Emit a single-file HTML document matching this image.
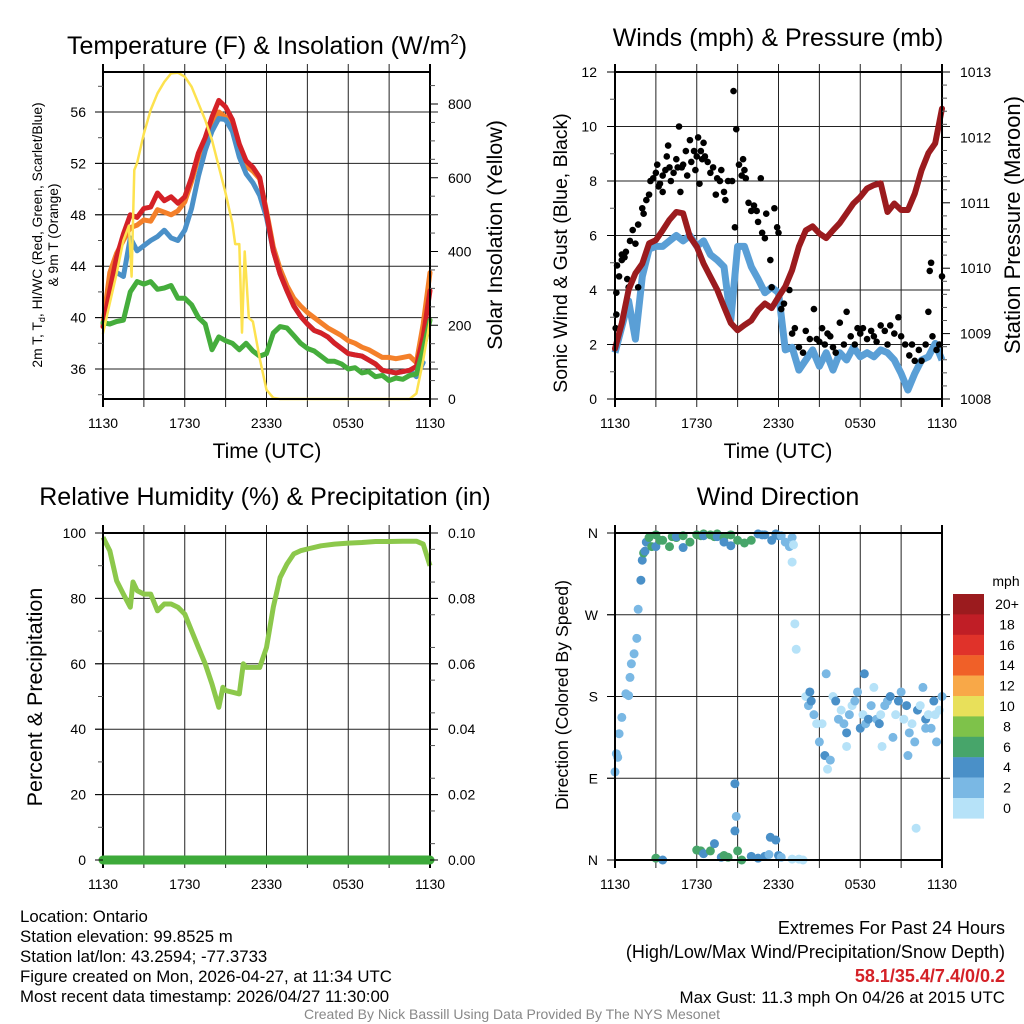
<!DOCTYPE html>
<html><head><meta charset="utf-8"><title>Mesonet Station Charts</title>
<style>
html,body{margin:0;padding:0;background:#fff;}
svg{display:block;font-family:"Liberation Sans",Arial,sans-serif;}
</style></head>
<body>
<svg id="root" width="1024" height="1024" viewBox="0 0 1024 1024" xmlns="http://www.w3.org/2000/svg">
<rect width="1024" height="1024" fill="#fff"/>
<g id="p1"></g>
<g id="p2"></g>
<g id="p3"></g>
<g id="p4"></g>

<text x="267" y="54" font-size="25" text-anchor="middle">Temperature (F) &amp; Insolation (W/m<tspan dy="-10" font-size="15">2</tspan><tspan dy="10">)</tspan></text>
<text x="778" y="46" font-size="25" text-anchor="middle">Winds (mph) &amp; Pressure (mb)</text>
<text x="265" y="505" font-size="25" text-anchor="middle">Relative Humidity (%) &amp; Precipitation (in)</text>
<text x="778" y="505" font-size="25" text-anchor="middle">Wind Direction</text>

<text transform="translate(42,235) rotate(-90)" font-size="13.8" text-anchor="middle">2m T, T<tspan font-size="9" dy="3">d</tspan><tspan dy="-3">, HI/WC (Red, Green, Scarlet/Blue)</tspan></text>
<text transform="translate(58,235) rotate(-90)" font-size="13.8" text-anchor="middle">&amp; 9m T (Orange)</text>
<text transform="translate(502,235) rotate(-90)" font-size="21.5" text-anchor="middle">Solar Insolation (Yellow)</text>
<text transform="translate(567,253) rotate(-90)" font-size="19.5" text-anchor="middle">Sonic Wind &amp; Gust (Blue, Black)</text>
<text transform="translate(1020,225) rotate(-90)" font-size="22" text-anchor="middle">Station Pressure (Maroon)</text>
<text transform="translate(42,697) rotate(-90)" font-size="21.5" text-anchor="middle">Percent &amp; Precipitation</text>
<text transform="translate(568,695) rotate(-90)" font-size="17.7" text-anchor="middle">Direction (Colored By Speed)</text>

<text x="267" y="458" font-size="21" text-anchor="middle">Time (UTC)</text>
<text x="778" y="458" font-size="21" text-anchor="middle">Time (UTC)</text>

<g id="legend"></g>

<g font-size="16.8">
<text x="20" y="922">Location: Ontario</text>
<text x="20" y="942">Station elevation: 99.8525 m</text>
<text x="20" y="962">Station lat/lon: 43.2594; -77.3733</text>
<text x="20" y="982">Figure created on Mon, 2026-04-27, at 11:34 UTC</text>
<text x="20" y="1002">Most recent data timestamp: 2026/04/27 11:30:00</text>
</g>
<g font-size="18" text-anchor="end">
<text x="1005" y="934">Extremes For Past 24 Hours</text>
<text x="1005" y="958">(High/Low/Max Wind/Precipitation/Snow Depth)</text>
<text x="1005" y="982" fill="#d42127" font-weight="bold">58.1/35.4/7.4/0/0.2</text>
<text x="1005" y="1003" font-size="16.9">Max Gust: 11.3 mph On 04/26 at 2015 UTC</text>
</g>
<text x="512" y="1019" font-size="14" fill="#888" text-anchor="middle">Created By Nick Bassill Using Data Provided By The NYS Mesonet</text>
</svg>
<script>
// ---- data ----
const hours = [0,0.5,1,1.5,2,2.5,3,3.5,4,4.5,5,5.5,6,6.5,7,7.5,8,8.5,9,9.5,10,10.5,11,11.5,12,12.5,13,13.5,14,14.5,15,15.5,16,16.5,17,17.5,18,18.5,19,19.5,20,20.5,21,21.5,22,22.5,23,23.5,24];
const tempRed = [39.3,42.1,44.7,46.5,48,47.8,48.5,48.6,49.7,49.1,49.4,48.9,49.4,50.9,52.8,54,55.6,56.9,56.4,55.4,53.5,52.2,51.7,50.9,48.1,45.2,43.4,42.1,40.9,40.1,39.5,39,38.8,38.5,38,37.6,37.2,37.1,37,36.7,36.4,35.9,35.8,35.7,35.8,35.9,36.2,38.5,42.1];
const tempOrange = [39.5,43.5,45,46,47,47.2,47.6,47.5,48.4,48.2,48,48.3,49,50.6,52.5,53.8,55,56,55.6,55,53.2,51.8,51.4,50.8,48.3,45.5,43.8,42.5,41.5,40.9,40.4,40,39.6,39.2,38.9,38.6,38.2,38,37.7,37.5,37.2,36.9,36.9,36.8,36.9,37,36.5,39.5,43.5];
const tempBlue = [null,null,43.5,43.2,46.2,45.2,45.6,46,46.3,46.8,46.2,46,46.8,48.5,51,53,54.5,55.5,55.4,54.5,52.5,51.2,50.5,49.5,47.8,45.2,43.4,42.1,40.9,40.1,39.5,39,38.8,38.5,38,37.6,37.2,37.1,37,36.7,36.4,35.9,35.8,35.7,35.8,35.9,35.4,36.5,null];
const tempGreen = [39.6,39.5,39.7,39.8,42,42.8,42.6,42.8,42.2,42.3,42.5,41.5,41.5,41,40,39.5,37.5,38.5,38.2,38,37.5,38,37.4,37,37.2,38.8,39.3,39.2,38.6,38,37.6,37.4,37,36.6,36.6,36.4,36,36.1,35.7,35.8,35.4,35.5,35.1,35.3,35.2,35.5,35.6,37.5,39.8];
const solarHours = [0,0.5,1,1.5,1.9,2.1,2.3,2.5,3,3.5,4,4.5,5,5.5,6,6.5,7,7.5,8,8.5,9,9.5,9.7,10,10.2,10.4,10.7,11,11.5,12,12.5,13,22.5,23,23.5,24];
const solarVals = [178,260,340,430,470,332,621,640,720,784,829,860,883,885,874,847,802,757,702,630,558,476,420,420,180,400,220,210,110,25,3,0,0,15,105,214];
const pressure = [1008.77,1009.16,1009.67,1009.92,1010.07,1010.38,1010.43,1010.58,1010.74,1010.86,1010.84,1010.48,1010.33,1010.07,1009.87,1009.67,1009.41,1009.16,1009.05,1009.13,1009.2,1009.36,1009.46,1009.39,1009.56,1009.72,1009.97,1010.33,1010.58,1010.64,1010.53,1010.46,1010.58,1010.69,1010.84,1010.99,1011.09,1011.22,1011.27,1011.3,1010.86,1010.99,1010.89,1010.89,1011.14,1011.5,1011.76,1011.91,1012.44];
const windAvg = [1.7,2.65,3.6,2.2,4.5,5.5,5.6,5.6,5.8,6,5.8,6,5.6,5.8,5.3,5.1,4.85,2.9,5.6,5.6,4.85,4.4,3.9,4.1,3.9,1.8,1.9,1.06,1.43,1.8,1.2,1.7,1.06,1.7,1.43,1.9,1.55,1.7,1.55,1.8,1.7,1.43,0.94,0.33,0.94,1.43,1.55,2.04,1.43];
const gustHours = [0.05,0.1,0.1,0.15,0.3,0.5,0.5,0.7,0.8,0.9,1.0,1.1,1.3,1.5,1.7,1.7,2.0,2.1,2.3,2.5,2.6,2.8,3.0,3.1,3.2,3.3,3.5,3.5,3.7,3.8,3.9,4.0,4.1,4.3,4.5,4.6,4.7,4.8,4.9,5.0,5.2,5.3,5.5,5.6,5.8,5.9,6.0,6.1,6.2,6.3,6.4,6.5,6.6,6.8,7.0,7.2,7.4,7.5,7.7,7.8,8.0,8.1,8.3,8.6,8.7,8.8,8.9,9.1,9.3,9.4,9.5,9.6,9.8,10.0,10.2,10.4,10.5,10.7,10.8,11.0,11.1,11.4,11.5,11.7,11.9,12.0,12.2,12.4,12.8,13.0,13.2,13.5,13.8,14.0,14.3,14.6,14.8,15.0,15.2,15.4,15.6,15.8,16.0,16.2,16.5,16.8,17.0,17.3,17.6,17.8,18.0,18.2,18.5,18.8,19.0,19.2,19.5,19.8,20.0,20.2,20.5,20.8,21.0,21.3,21.6,21.8,22.0,22.3,22.5,22.8,23.0,23.1,23.2,23.3,23.6,23.8,24.0];
const gustVals = [2.6,3.1,3.9,4.9,4.5,5.1,5.3,5.2,5.4,4.4,4.1,5.8,6.2,5.7,4.1,6.4,7.0,6.8,7.3,7.5,8.0,8.1,8.3,8.6,7.8,7.9,8.2,7.6,8.4,8.9,9.3,8.5,8.0,8.3,8.8,8.5,10.0,7.6,8.5,8.6,9.1,8.2,9.5,8.7,9.1,8.4,8.9,9.6,7.9,9.1,8.8,9.4,8.9,8.7,8.3,8.5,7.5,8.1,8.0,8.4,7.6,7.3,8.0,8.0,11.3,6.3,9.9,8.6,8.2,8.8,8.4,8.1,7.2,6.9,7.1,6.9,6.5,8.1,6.1,5.9,6.8,5.1,4.1,7.0,6.3,6.1,3.3,3.5,4.0,2.4,2.6,1.9,1.7,2.5,2.2,3.3,2.2,2.1,2.6,2.0,2.4,2.3,1.9,1.7,2.8,2.0,3.2,2.3,2.0,2.6,2.4,2.6,2.2,2.5,2.3,2.1,2.7,2.5,2.0,2.7,2.4,3.0,2.3,2.0,1.6,2.0,1.4,1.8,1.4,2.0,3.2,4.7,5.0,2.3,1.8,2.0,4.5];
const rhHours = [0,0.5,1,1.5,2,2.2,2.5,3,3.5,4,4.5,5,5.5,6,6.5,7,7.5,8,8.5,8.8,9,9.5,10,10.3,10.5,11,11.5,12,12.5,13,13.5,14,14.5,15,16,17,18,19,20,21,22,23,23.5,24];
const rhVals = [98.7,94.6,85.4,81.3,77.3,85,82.4,81.3,81.3,76.2,78.3,78.3,77.3,75.2,70.1,65,60,53.8,46.7,52.8,51.8,51.3,50.8,60,58.9,58.9,58.9,65,77.3,86.4,90.5,93.6,94.6,95.1,96.1,96.6,96.9,97.1,97.4,97.4,97.5,97.5,96.6,90];
const precipHours = [0,24];
const precipVals = [0,0];
const dirHours = [0,0.1,0.2,0.3,0.5,0.8,1.0,1.1,1.2,1.4,1.6,1.7,1.9,2.0,2.1,2.2,2.3,2.5,2.7,3.0,3.0,3.3,3.5,4.0,4.2,4.5,4.5,5.0,5.0,5.5,6.0,6.3,6.5,6.5,7.0,7.3,7.5,7.5,8.0,8.0,8.5,8.5,9.0,9.5,10.0,10.5,10.8,11.0,11.5,11.8,12.0,12.2,12.5,12.8,13.0,13.1,13.0,13.2,13.3,
 3.0,3.5,6.0,6.3,6.5,7.0,7.3,7.8,8.0,8.3,8.8,8.9,8.8,9.3,9.0,10.0,10.5,11.0,11.3,11.4,11.8,12.0,12.2,13.0,13.5,22.1,
 13.8,14.0,14.2,14.4,14.6,14.8,15.0,15.2,15.4,15.6,15.8,16.0,16.2,16.4,16.6,16.8,17.0,17.2,17.4,17.6,17.8,18.0,18.2,18.4,18.6,18.8,19.0,19.2,19.4,19.6,19.8,20.0,20.2,20.4,20.6,20.8,21.0,21.2,21.4,21.6,21.8,22.0,22.2,22.4,22.6,22.8,23.0,23.2,23.4,23.6,23.8,24.0,14.3,15.5,17.0,18.3,19.5,21.5,22.8,23.5];
const dirVals = [97,117,113,139,157,183,181,201,216,227,244,276,308,330,338,340,350,355,345,358,345,352,352,345,356,355,356,357,344,350,358,357,359,357,358,356,359,356,355,350,358,346,352,349,352,359,358,358,352,359,357,357,350,345,355,347,328,260,232,
 2,0,11,10,7,10,18,3,5,3,84,48,32,0,10,4,2,4,6,25,22,5,3,1,1,35,0,
 180,170,175,160,150,130,150,115,100,110,180,175,155,165,150,140,160,170,175,185,145,160,150,155,170,190,155,150,125,170,175,180,135,160,175,185,155,170,140,150,130,165,170,190,155,160,145,175,130,165,180,185,205,125,205,160,115,145,160,195];
const dirSpeed = [2,2,2,2,2,2,2,2,2,2,2,2,4,4,6,4,4,6,6,6,4,6,6,6,6,6,4,6,4,6,6,6,6,4,6,6,6,4,6,4,6,4,6,6,6,4,4,4,4,4,4,2,2,2,2,0,0,0,0,
 6,4,6,6,4,6,4,4,6,6,4,2,4,6,6,4,4,4,2,4,4,4,2,0,0,0,
 0,0,2,4,2,0,2,0,4,0,2,0,4,2,0,2,4,2,0,2,2,4,0,2,4,2,0,2,4,0,2,2,4,2,0,4,2,0,4,2,0,2,4,0,2,4,0,2,4,2,0,2,4,2,0,4,0,2,2,0];
const legendLabels = ["20+","18","16","14","12","10","8","6","4","2","0"];
const legendColors = ["#9b1b1e","#c01e26","#e0322a","#f06028","#f8a848","#e8e05a","#7ec24a","#47a56a","#4a90c8","#7ab8e4","#b6e2f8"];
const timeTickLabels = ["1130","1730","2330","0530","1130"];

// ---- helpers ----
const NS = "http://www.w3.org/2000/svg";
function mk(tag, attrs, parent){
  const e = document.createElementNS(NS, tag);
  for (const k in attrs) e.setAttribute(k, attrs[k]);
  parent.appendChild(e); return e;
}
function lin(d0,d1,r0,r1){ return v => r0 + (v-d0)/(d1-d0)*(r1-r0); }
function speedColor(s){ let i = Math.min(10, Math.floor(s/2)); return legendColors[10-i]; }
function pathFrom(xs, ys, fx, fy){
  let d = "", pen = false;
  for (let i=0;i<xs.length;i++){
    if (ys[i]===null){ pen=false; continue; }
    d += (pen?"L":"M") + fx(xs[i]).toFixed(1) + "," + fy(ys[i]).toFixed(1);
    pen = true;
  }
  return d;
}

function frame(g, L, R, T, B, hLines, vFn){
  for (let h=3; h<24; h+=3){
    const x = vFn(h);
    const ln = mk("line",{x1:x,x2:x,y1:T-8,y2:B+8,stroke:"#222","stroke-width":1},g);
    
    
  }
  hLines.forEach(y=>{
    const ln = mk("line",{x1:L-8,x2:R+8,y1:y,y2:y,stroke:"#222","stroke-width":1},g);
    
    
  });
  timeTickLabels.forEach((lab,i)=>{
    const x = vFn(i*6);
    const t = mk("text",{x:x,y:B+29,"font-size":14,"text-anchor":"middle"},g);
    t.textContent = lab;
    
    
  });
}
function border(g,L,R,T,B){
  const r = mk("rect",{x:L,y:T,width:R-L,height:B-T,fill:"none",stroke:"#000","stroke-width":2},g);
  
  
  mk("line",{x1:L,x2:L,y1:T-8,y2:B+8,stroke:"#000","stroke-width":2},g);
  mk("line",{x1:R,x2:R,y1:T-8,y2:B+8,stroke:"#000","stroke-width":2},g);
}
function yTicks(g, side, ticks, fy, fmt, x, minor, L, R){
  const xe = side==="left"?L:R;
  ticks.forEach(v=>{
    const y = fy(v);
    const t = mk("text",{x:x,y:y+5,"font-size":14,"text-anchor":side==="left"?"end":"start"},g);
    t.textContent = fmt(v);
    
    
    mk("line",{x1:xe,x2:side==="left"?xe-8:xe+8,y1:y,y2:y,stroke:"#000","stroke-width":1},g);
  });
  minor.forEach(v=>{
    const y = fy(v);
    mk("line",{x1:xe,x2:side==="left"?xe-5:xe+5,y1:y,y2:y,stroke:"#555","stroke-width":1},g);
  });
}

// ---- Panel 1: temperature ----
(function(){
  const g = document.getElementById("p1");
  const L=103,R=430,T=72,B=399;
  const fx = lin(0,24,L,R);
  const fy = lin(36,56,369,112);
  const fs = lin(0,800,399,104);
  frame(g,L,R,T,B,[36,40,44,48,52,56].map(fy),fx);
  const add=(xs,ys,c,w,name,fyy)=>{
    const p = mk("path",{d:pathFrom(xs,ys,fx,fyy||fy),fill:"none",stroke:c,"stroke-width":w,"stroke-linejoin":"round","stroke-linecap":"round"},g);
    
    
  };
  add(hours,tempOrange,"#f4802a",5,"temp-9m-line");
  add(hours,tempBlue,"#4a90c8",5,"windchill-line");
  add(hours,tempRed,"#d42127",5,"temp-2m-line");
  add(hours,tempGreen,"#45ad3c",5,"dewpoint-line");
  add(solarHours,solarVals,"#fde24f",2.5,"solar-insolation-line",fs);
  border(g,L,R,T,B);
  const mn=[]; for(let v=34; v<=58; v+=2) if(v%4) mn.push(v);
  yTicks(g,"left",[36,40,44,48,52,56],fy,v=>v,86,mn,L,R);
  const mn2=[]; for(let v=50; v<=850; v+=50) if(v%200) mn2.push(v);
  yTicks(g,"right",[0,200,400,600,800],fs,v=>v,448,mn2,L,R);
})();

// ---- Panel 2: winds ----
(function(){
  const g = document.getElementById("p2");
  const L=615,R=942,T=72,B=399;
  const fx = lin(0,24,L,R);
  const fy = lin(0,12,399,72);
  const fp = lin(1008,1013,399,72);
  frame(g,L,R,T,B,[2,4,6,8,10].map(fy),fx);
  const wl = mk("path",{d:pathFrom(hours,windAvg,fx,fy),fill:"none",stroke:"#5a9fd6","stroke-width":7,"stroke-linejoin":"round"},g);
  
  
  gustHours.forEach((h,i)=>{
    const c = mk("circle",{cx:fx(h),cy:fy(gustVals[i]),r:3.3,fill:"#000"},g);
    
    
  });
  const pl = mk("path",{d:pathFrom(hours,pressure,fx,fp),fill:"none",stroke:"#9b1b1e","stroke-width":6,"stroke-linejoin":"round","stroke-linecap":"round"},g);
  
  
  border(g,L,R,T,B);
  yTicks(g,"left",[0,2,4,6,8,10,12],fy,v=>v,597,[1,3,5,7,9,11],L,R);
  const mn=[]; for(let v=1008.2; v<1013; v+=0.2){ if(Math.abs(v-Math.round(v))>0.05) mn.push(v);}
  yTicks(g,"right",[1008,1009,1010,1011,1012,1013],fp,v=>v,960,mn,L,R);
})();

// ---- Panel 3: humidity ----
(function(){
  const g = document.getElementById("p3");
  const L=103,R=430,T=533,B=860;
  const fx = lin(0,24,L,R);
  const fy = lin(0,100,860,533);
  const fpr = lin(0,0.1,860,533);
  frame(g,L,R,T,B,[20,40,60,80].map(fy),fx);
  const rl = mk("path",{d:pathFrom(rhHours,rhVals,fx,fy),fill:"none",stroke:"#8cc84b","stroke-width":5,"stroke-linejoin":"round"},g);
  
  
  border(g,L,R,T,B);
  const pr = mk("path",{d:pathFrom(precipHours,precipVals,fx,fpr),fill:"none",stroke:"#3daa3a","stroke-width":9,"stroke-linecap":"round"},g);
  
  
  yTicks(g,"left",[0,20,40,60,80,100],fy,v=>v,86,[10,30,50,70,90],L,R);
  const mn=[]; for(let k=1;k<20;k+=2) mn.push(k*0.005);
  yTicks(g,"right",[0,0.02,0.04,0.06,0.08,0.1],fpr,v=>v.toFixed(2),448,mn,L,R);
})();

// ---- Panel 4: wind direction ----
(function(){
  const g = document.getElementById("p4");
  const L=615,R=942,T=533,B=860;
  const fx = lin(0,24,L,R);
  const fy = lin(0,360,860,533);
  frame(g,L,R,T,B,[90,180,270].map(fy),fx);
  dirHours.forEach((h,i)=>{
    const c = mk("circle",{cx:fx(h),cy:fy(dirVals[i]),r:4.5,fill:speedColor(dirSpeed[i])},g);
    
    
  });
  border(g,L,R,T,B);
  ["N","E","S","W","N"].forEach((lab,i)=>{
    const y = fy(i*90);
    const t = mk("text",{x:598,y:y+5,"font-size":14,"text-anchor":"end"},g);
    t.textContent = lab;
    
    
    mk("line",{x1:L,x2:L-8,y1:y,y2:y,stroke:"#000","stroke-width":1},g);
  });
  const lg = document.getElementById("legend");
  const mt = mk("text",{x:1006,y:586,"font-size":14,"text-anchor":"middle"},lg);
  mt.textContent = "mph";
  
  
  legendLabels.forEach((lab,i)=>{
    const y = 594 + i*20.4;
    const r = mk("rect",{x:953,y:y,width:31,height:20.6,fill:legendColors[i]},lg);
    
    
    const t = mk("text",{x:1007,y:y+15,"font-size":14,"text-anchor":"middle"},lg);
    t.textContent = lab;
    
    
  });
})();
</script>
</body></html>
